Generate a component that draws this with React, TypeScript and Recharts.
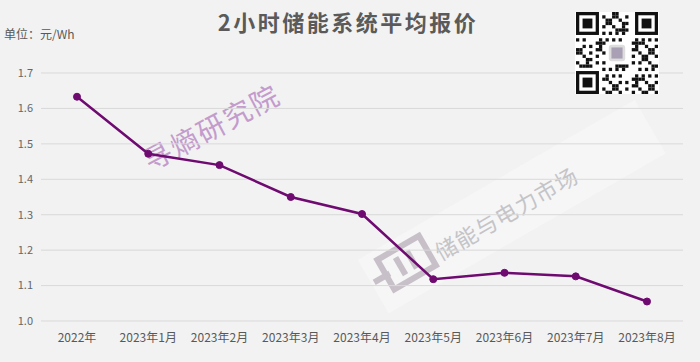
import { CartesianGrid, Line, LineChart, XAxis, YAxis } from "recharts";

const months = [
  "2022年",
  "2023年1月",
  "2023年2月",
  "2023年3月",
  "2023年4月",
  "2023年5月",
  "2023年6月",
  "2023年7月",
  "2023年8月",
];

const prices = [1.633, 1.472, 1.44, 1.35, 1.302, 1.118, 1.136, 1.126, 1.055];

const yTicks = [1.0, 1.1, 1.2, 1.3, 1.4, 1.5, 1.6, 1.7];

const chartData = months.map((month, i) => ({ month, price: prices[i] }));

const font = '"Noto Sans CJK SC", "Noto Sans", sans-serif';

// decorative QR-ish block, top right
function QrBlock() {
  const n = 25;
  const cell = 82 / n;
  const cells: JSX.Element[] = [];
  const inFinder = (r: number, c: number) =>
    (r < 8 && c < 8) || (r < 8 && c >= n - 8) || (r >= n - 8 && c < 8);
  for (let r = 0; r < n; r++) {
    for (let c = 0; c < n; c++) {
      if (inFinder(r, c)) continue;
      if (r >= 9 && r <= 15 && c >= 9 && c <= 15) continue;
      const on = ((r * 31 + c * 17 + r * c * 7) % 11) % 3 === 0;
      if (on) {
        cells.push(
          <rect key={`${r}-${c}`} x={c * cell} y={r * cell} width={cell} height={cell} fill="#111" />
        );
      }
    }
  }
  const finder = (x: number, y: number) => (
    <g key={`f${x}${y}`}>
      <rect x={x} y={y} width={cell * 7} height={cell * 7} fill="#111" />
      <rect x={x + cell} y={y + cell} width={cell * 5} height={cell * 5} fill="#fff" />
      <rect x={x + cell * 2} y={y + cell * 2} width={cell * 3} height={cell * 3} fill="#111" />
    </g>
  );
  return (
    <svg
      width={84}
      height={82}
      style={{ position: "absolute", left: 575, top: 12, zIndex: 2 }}
    >
      <rect width={84} height={82} fill="#fff" />
      <g transform="translate(1,0)">
        {cells}
        {finder(0, 0)}
        {finder(cell * (n - 7), 0)}
        {finder(0, cell * (n - 7))}
        <rect x={cell * 10} y={cell * 10} width={cell * 5} height={cell * 5} rx={3} fill="#ddd" />
        <rect x={cell * 10.8} y={cell * 10.8} width={cell * 3.4} height={cell * 3.4} fill="#a9a0b5" />
      </g>
    </svg>
  );
}

function Watermarks() {
  return (
    <svg
      width={700}
      height={362}
      style={{ position: "absolute", left: 0, top: 0, zIndex: 0 }}
    >
      <text
        x={212}
        y={138}
        transform="rotate(-28 212 128)"
        textAnchor="middle"
        fontFamily={font}
        fontSize={28}
        fill="#c39bcc"
        letterSpacing={2}
      >
        寻熵研究院
      </text>
      <g transform="rotate(-30 505 215)">
        <rect x={355} y={180} width={320} height={62} fill="#f8f8f8" opacity={0.65} />
        <rect x={372} y={190} width={48} height={34} fill="none" stroke="#c8c0c8" strokeWidth={6} />
        <rect x={386} y={197} width={6} height={20} fill="#c8c0c8" />
        <rect x={399} y={197} width={6} height={20} fill="#c8c0c8" />
        <rect x={358} y={205} width={18} height={6} fill="#c8c0c8" />
        <text
          x={507}
          y={223}
          textAnchor="middle"
          fontFamily={font}
          fontSize={22}
          fill="#c4c4c8"
          letterSpacing={1}
        >
          储能与电力市场
        </text>
      </g>
    </svg>
  );
}

export default function App() {
  return (
    <div
      style={{
        position: "fixed",
        left: 0,
        top: 0,
        width: 700,
        height: 362,
        background: "#f2f2f2",
        fontFamily: font,
      }}
    >
      <Watermarks />
      <div
        style={{
          position: "absolute",
          top: 5,
          left: 0,
          width: 696,
          textAlign: "center",
          fontSize: 22,
          fontWeight: "bold",
          letterSpacing: 2.5,
          color: "#5a5a5a",
          zIndex: 2,
        }}
      >
        2小时储能系统平均报价
      </div>
      <div
        style={{
          position: "absolute",
          top: 25,
          left: 4,
          fontSize: 12,
          color: "#595959",
          zIndex: 2,
        }}
      >
        单位：元/Wh
      </div>
      <QrBlock />
      <div style={{ position: "absolute", left: 0, top: 0, zIndex: 1 }}>
        <LineChart
          width={700}
          height={362}
          data={chartData}
          margin={{ top: 73, right: 17, left: 0, bottom: 11 }}
        >
          <CartesianGrid vertical={false} stroke="#d9d9d9" strokeWidth={1} />
          <XAxis
            dataKey="month"
            axisLine={false}
            tickLine={false}
            interval={0}
            height={30}
            tickMargin={6}
            padding={{ left: 36, right: 36 }}
            tick={{ fontSize: 12, fill: "#595959", fontFamily: font }}
          />
          <YAxis
            domain={[1.0, 1.7]}
            ticks={yTicks}
            tickFormatter={(v: number) => v.toFixed(1)}
            axisLine={false}
            tickLine={false}
            width={41}
            tick={{ fontSize: 11, fill: "#666", fontFamily: font }}
          />
          <Line
            dataKey="price"
            stroke="#6e0a70"
            strokeWidth={2.5}
            dot={{ r: 3.5, fill: "#6e0a70", stroke: "#6e0a70", strokeWidth: 1 }}
            isAnimationActive={false}
          />
        </LineChart>
      </div>
    </div>
  );
}
